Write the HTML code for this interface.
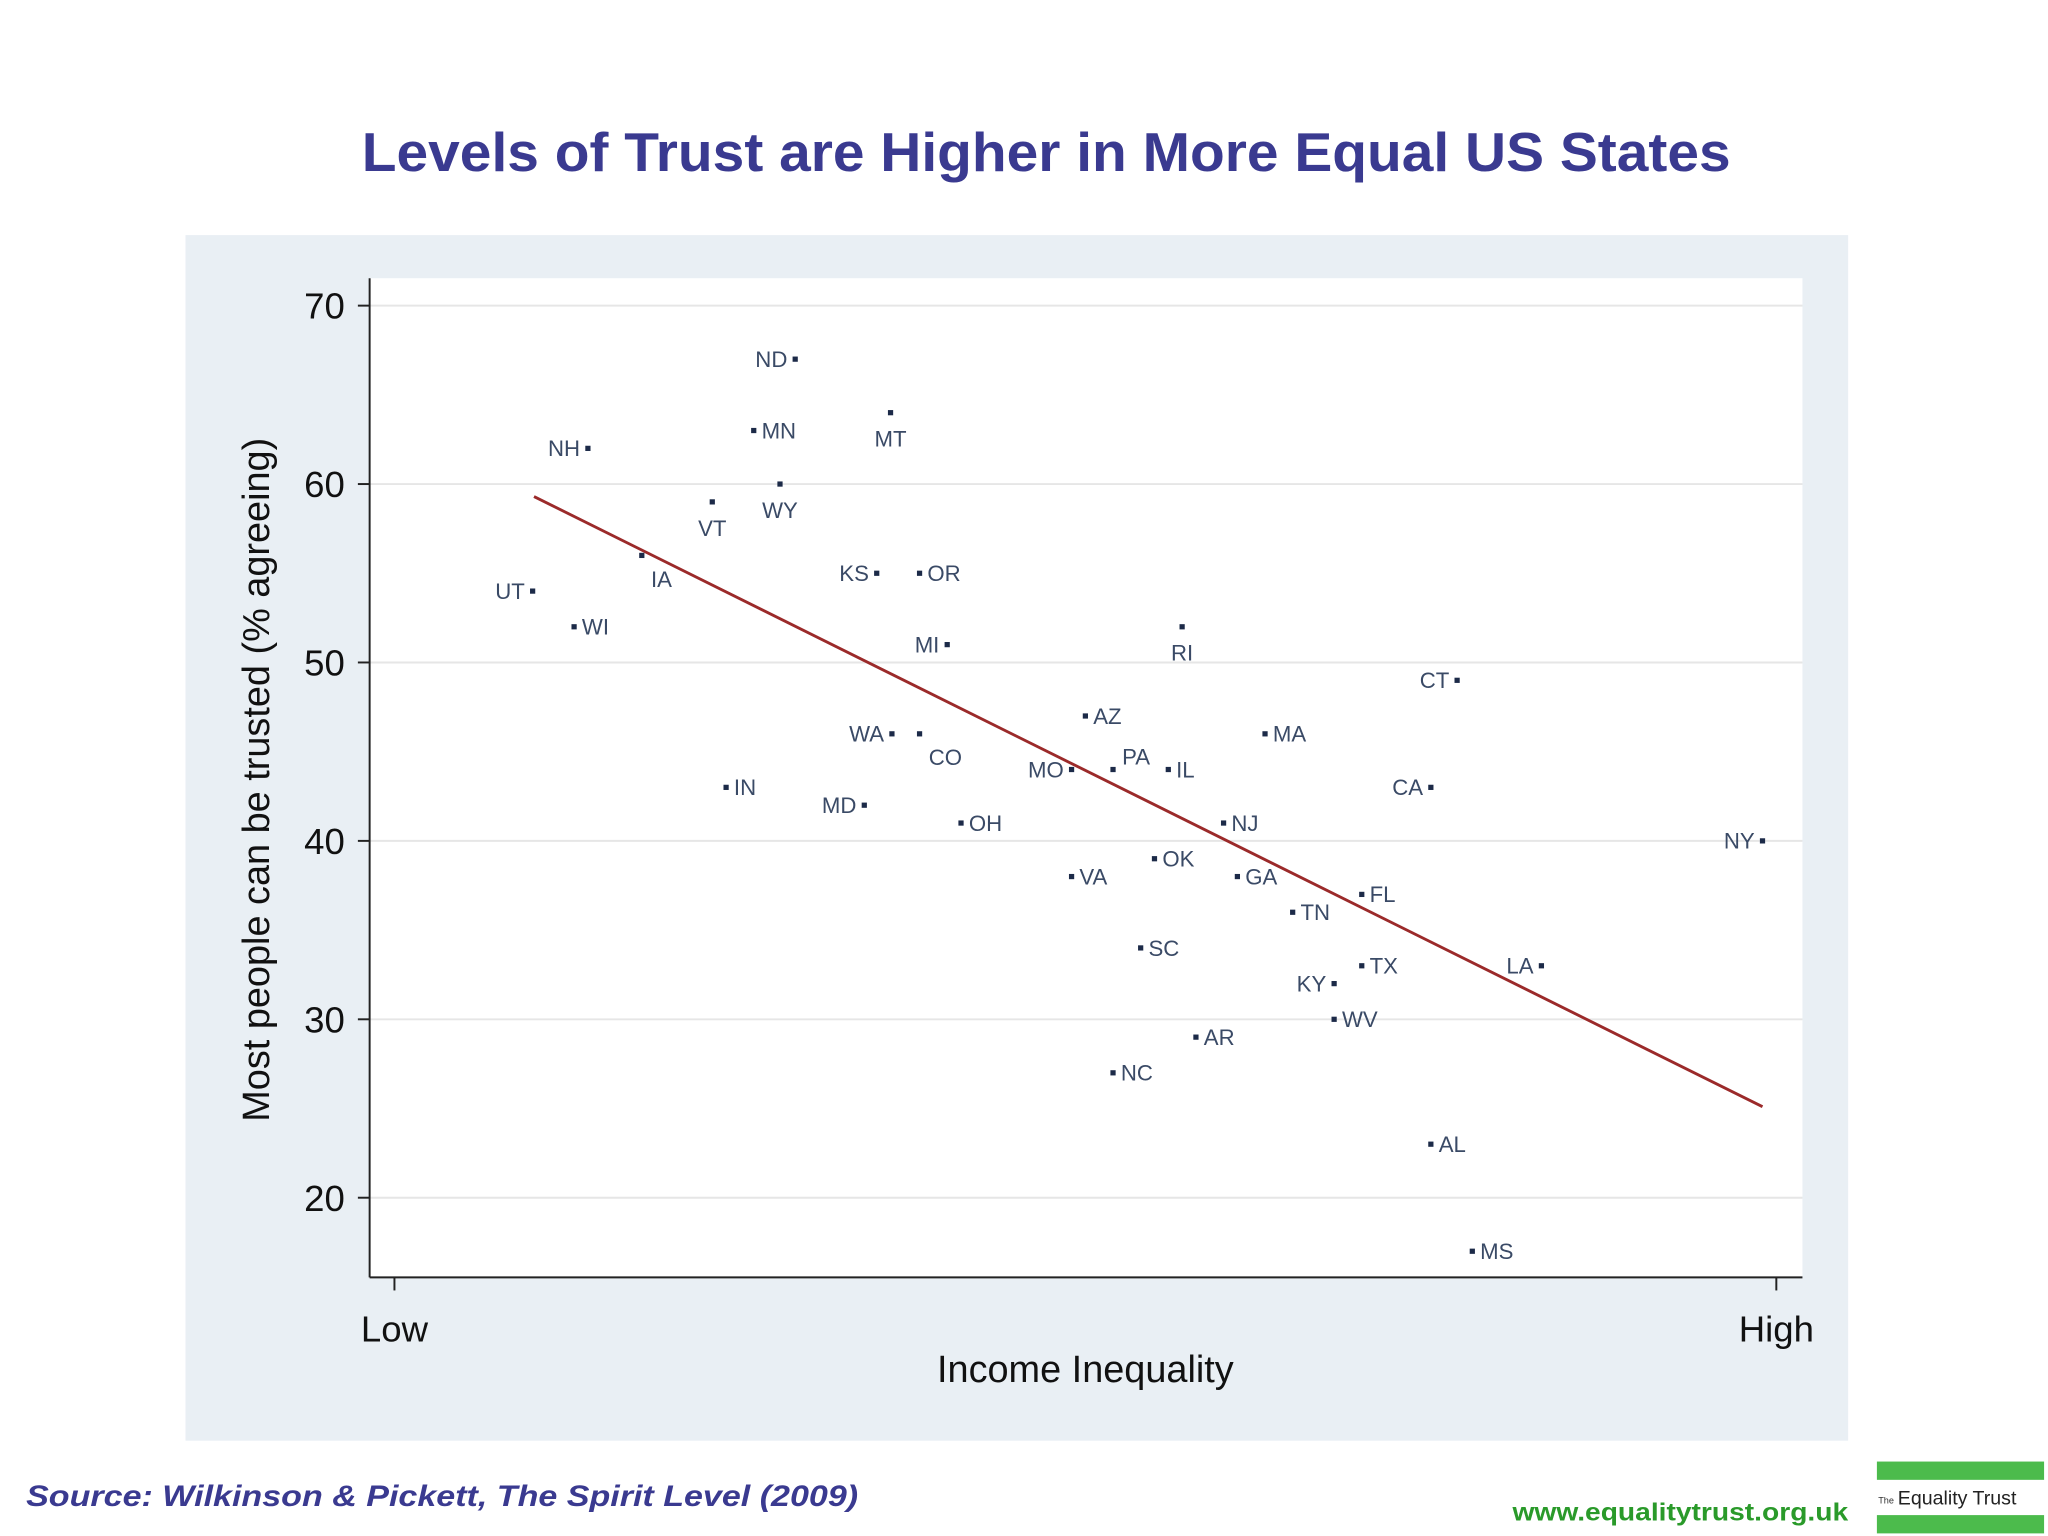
<!DOCTYPE html>
<html><head><meta charset="utf-8"><style>
html,body{margin:0;padding:0;background:#fff;}
svg{display:block;}
text{font-family:"Liberation Sans",sans-serif;}
</style></head><body>
<svg id="chart" width="2048" height="1536" viewBox="0 0 1568 1176" xmlns="http://www.w3.org/2000/svg">
<text x="277" y="131" font-size="42" font-weight="bold" fill="#3a3a90" textLength="1048" lengthAdjust="spacingAndGlyphs">Levels of Trust are Higher in More Equal US States</text>
<rect x="142" y="180" width="1273" height="923" fill="#e9eff4"/>
<rect x="283" y="213" width="1097" height="765" fill="#fff"/>
<g id="grid"></g>
<g id="axes"></g>
<line id="fit" stroke="#9b2a2a" stroke-width="2.2"/>
<g id="points"></g>
<text transform="translate(206,597) rotate(-90)" text-anchor="middle" font-size="29" fill="#111">Most people can be trusted (% agreeing)</text>
<text x="831" y="1058" text-anchor="middle" font-size="29" fill="#111">Income Inequality</text>
<text x="20" y="1153" font-size="23" font-style="italic" font-weight="bold" fill="#3a3a90" textLength="637" lengthAdjust="spacingAndGlyphs">Source: Wilkinson &amp; Pickett, The Spirit Level (2009)</text>
<text x="1158" y="1164" font-size="19" font-weight="bold" fill="#2a9a2a" textLength="257" lengthAdjust="spacingAndGlyphs">www.equalitytrust.org.uk</text>
<g>
<rect x="1437" y="1119" width="128" height="14" fill="#4cbb4c"/>
<rect x="1437" y="1160" width="128" height="14" fill="#4cbb4c"/>
<text x="1438" y="1151" font-size="7" fill="#333">The</text>
<text x="1453" y="1152" font-size="15" fill="#222">Equality Trust</text>
</g>
</svg>
<script>
const states=["ND","MT","MN","NH","WY","VT","IA","KS","OR","UT","WI","RI","MI","CT","AZ","WA","CO","MA","MO","PA","IL","IN","CA","MD","OH","NJ","NY","OK","VA","GA","FL","TN","SC","TX","LA","KY","WV","AR","NC","AL","MS"];
const inequality=[0.29,0.359,0.26,0.14,0.279,0.23,0.179,0.349,0.38,0.10,0.13,0.57,0.40,0.769,0.50,0.36,0.38,0.63,0.49,0.52,0.56,0.24,0.75,0.34,0.41,0.60,0.99,0.55,0.49,0.61,0.70,0.65,0.54,0.70,0.83,0.68,0.68,0.58,0.52,0.75,0.78];
const trust=[67,64,63,62,60,59,56,55,55,54,52,52,51,49,47,46,46,46,44,44,44,43,43,42,41,41,40,39,38,38,37,36,34,33,33,32,30,29,27,23,17];
const labelSide=["L","B","R","L","B","B","BR","L","R","L","R","B","L","L","R","L","BR","R","L","AR","R","R","L","L","R","R","L","R","R","R","R","R","R","R","L","L","R","R","R","R","R"];
const yTicks=[20,30,40,50,60,70];
const xTickLabels=["Low","High"];
const xTickValues=[0,1];
const fitX=[0.101,0.99];
const fitY=[59.3,25.1];
const NS="http://www.w3.org/2000/svg";
const X=v=>302+v*1058;
const Y=v=>234+(70-v)*13.66;
function mk(t,a,p){const e=document.createElementNS(NS,t);for(const k in a)e.setAttribute(k,a[k]);p.appendChild(e);return e;}
const grid=document.getElementById('grid'),axes=document.getElementById('axes'),pts=document.getElementById('points');
yTicks.forEach(t=>{
 const g=mk('line',{x1:283,x2:1380,y1:Y(t),y2:Y(t),stroke:'#e6e6e6','stroke-width':1.5},grid);
 
 
 const tk=mk('line',{x1:274,x2:283,y1:Y(t),y2:Y(t),stroke:'#222','stroke-width':1.5},axes);
 
 
 const l=mk('text',{x:264,y:Y(t)+10,'text-anchor':'end','font-size':28,fill:'#111'},axes);
 
 
 l.textContent=t;
});
const ya=mk('line',{x1:283,x2:283,y1:213,y2:978,stroke:'#222','stroke-width':1.5},axes);


const xa=mk('line',{x1:283,x2:1380,y1:978,y2:978,stroke:'#222','stroke-width':1.5},axes);


xTickValues.forEach((v,i)=>{
 const tk=mk('line',{x1:X(v),x2:X(v),y1:978,y2:988,stroke:'#222','stroke-width':1.5},axes);
 
 
 const l=mk('text',{x:X(v),y:1027,'text-anchor':'middle','font-size':28,fill:'#111'},axes);
 
 
 l.textContent=xTickLabels[i];
});
const f=document.getElementById('fit');
f.setAttribute('x1',X(fitX[0]));f.setAttribute('y1',Y(fitY[0]));
f.setAttribute('x2',X(fitX[1]));f.setAttribute('y2',Y(fitY[1]));
states.forEach((s,i)=>{
 const cx=X(inequality[i]),cy=Y(trust[i]);
 const d=mk('rect',{x:cx-2,y:cy-2,width:4,height:4,fill:'#1c2a48'},pts);
 
 
 let a={'font-size':17,fill:'#3a4a66'};
 const side=labelSide[i];
 if(side==='L'){a.x=cx-6;a.y=cy+6;a['text-anchor']='end';}
 else if(side==='R'){a.x=cx+6;a.y=cy+6;}
 else if(side==='B'){a.x=cx;a.y=cy+26;a['text-anchor']='middle';}
 else if(side==='BR'){a.x=cx+7;a.y=cy+24;}
 else {a.x=cx+7;a.y=cy-4;}
 const t=mk('text',a,pts);
 
 
 t.textContent=s;
});
</script>
</body></html>
